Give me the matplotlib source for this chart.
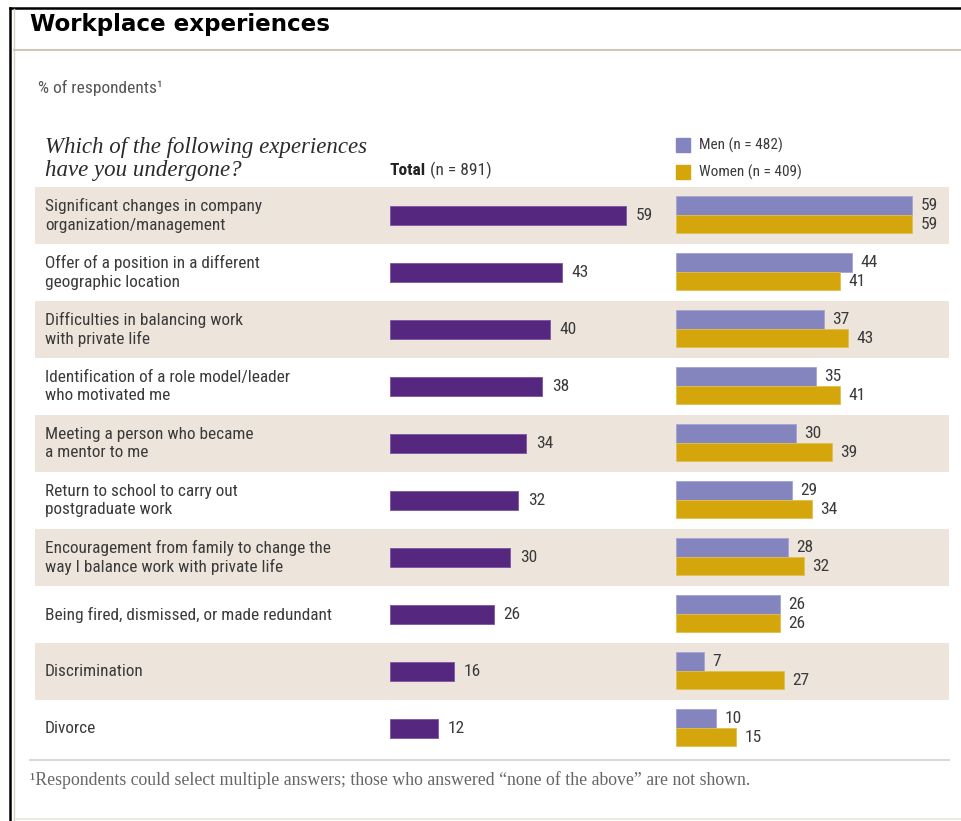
import matplotlib
matplotlib.use("Agg")
import matplotlib.pyplot as plt
from matplotlib.lines import Line2D

W, H = 961, 821

experiences = [
    "Significant changes in company\norganization/management",
    "Offer of a position in a different\ngeographic location",
    "Difficulties in balancing work\nwith private life",
    "Identification of a role model/leader\nwho motivated me",
    "Meeting a person who became\na mentor to me",
    "Return to school to carry out\npostgraduate work",
    "Encouragement from family to change the\nway I balance work with private life",
    "Being fired, dismissed, or made redundant",
    "Discrimination",
    "Divorce",
]
total = [59, 43, 40, 38, 34, 32, 30, 26, 16, 12]
men = [59, 44, 37, 35, 30, 29, 28, 26, 7, 10]
women = [59, 41, 43, 41, 39, 34, 32, 26, 27, 15]

PURPLE = "#55277f"
LAVENDER = "#8484bf"
GOLD = "#d4a60b"
BAND = "#ede5dc"
TEXT = "#3a3a3a"

SANS = ["Roboto Condensed", "Liberation Sans Narrow", "Liberation Sans", "DejaVu Sans"]
SERIF = ["Liberation Serif", "DejaVu Serif"]


def box(x0, y0, x1, y1):
    # pixel box (top-left origin) -> figure fraction rect
    return [x0 / W, 1 - y1 / H, (x1 - x0) / W, (y1 - y0) / H]


def fx(x):
    return x / W


def fy(y):
    return 1 - y / H


fig = plt.figure(figsize=(W / 100, H / 100), dpi=100)
fig.patch.set_facecolor("white")

n = len(experiences)
rows = list(range(n))

# shaded bands behind alternate rows
ax_bg = fig.add_axes(box(35, 187, 949, 757))
ax_bg.set_xlim(0, 1)
ax_bg.set_ylim(n - 0.5, -0.5)
for i in rows:
    if i % 2 == 0:
        ax_bg.axhspan(i - 0.5, i + 0.5, color=BAND, lw=0)
ax_bg.axis("off")

for i, label in enumerate(experiences):
    ax_bg.text(0.011, i, label, ha="left", va="center", fontsize=12.4,
               family=SANS, color=TEXT, linespacing=1.28)

# total bars
ax_t = fig.add_axes(box(390, 187, 630, 757))
ax_t.set_xlim(0, 60)
ax_t.set_ylim(n - 0.5, -0.5)
ax_t.barh(rows, total, height=0.32, color=PURPLE, edgecolor="#7a55a0", lw=0.6)
for i, v in enumerate(total):
    ax_t.annotate(str(v), (v, i), xytext=(7, 0), textcoords="offset points",
                  ha="left", va="center", fontsize=12.5, family=SANS,
                  color=TEXT, annotation_clip=False)
ax_t.axis("off")

# men / women bars
ax_g = fig.add_axes(box(676, 187, 916, 757))
ax_g.set_xlim(0, 60)
ax_g.set_ylim(n - 0.5, -0.5)
h = 0.325
men_y = [r - h / 2 - 0.01 for r in rows]
women_y = [r + h / 2 - 0.01 for r in rows]
ax_g.barh(men_y, men, height=h, color=LAVENDER, edgecolor="#a3a3d6", lw=0.6)
ax_g.barh(women_y, women, height=h, color=GOLD, edgecolor="#e0bf50", lw=0.6)
for y, v in zip(men_y, men):
    ax_g.annotate(str(v), (v, y), xytext=(6, 0), textcoords="offset points",
                  ha="left", va="center", fontsize=12.5, family=SANS,
                  color=TEXT, annotation_clip=False)
for y, v in zip(women_y, women):
    ax_g.annotate(str(v), (v, y), xytext=(6, 0), textcoords="offset points",
                  ha="left", va="center", fontsize=12.5, family=SANS,
                  color=TEXT, annotation_clip=False)
ax_g.axis("off")

# legend
ax_leg = fig.add_axes(box(676, 136, 820, 181))
ax_leg.set_xlim(0, 1)
ax_leg.set_ylim(1, 0)
ax_leg.axis("off")
for yy, col, lab in [(0.2, LAVENDER, "Men (n = 482)"), (0.8, GOLD, "Women (n = 409)")]:
    ax_leg.scatter([0.05], [yy], marker="s", s=110, color=col, clip_on=False)
    ax_leg.text(0.16, yy, lab, ha="left", va="center", fontsize=11,
                family=SANS, color=TEXT)

# headings
fig.text(fx(30), fy(24), "Workplace experiences", ha="left", va="center",
         fontsize=16.6, fontweight="bold", family=["DejaVu Sans"], color="black")
fig.text(fx(38), fy(88), "% of respondents\u00b9", ha="left", va="center",
         fontsize=12.5, family=SANS, color="#555555")
fig.text(fx(45), fy(159), "Which of the following experiences\nhave you undergone?",
         ha="left", va="center", fontsize=16.5, style="italic", family=SERIF,
         color="#2a2a2a", linespacing=1.1)
t = fig.text(fx(390), fy(170), "Total", ha="left", va="center", fontsize=12.5,
             fontweight="bold", family=SANS, color="#222222")
fig.add_artist(plt.Annotation(" (n = 891)", xy=(1, 0.5), xycoords=t,
                              ha="left", va="center", fontsize=12.5,
                              family=SANS, color=TEXT))

fig.text(fx(30), fy(780),
         "\u00b9Respondents could select multiple answers; those who answered "
         "\u201cnone of the above\u201d are not shown.",
         ha="left", va="center", fontsize=12.8, family=SERIF, color="#666666")

# frame lines
fig.add_artist(Line2D([fx(10), 1], [fy(8), fy(8)], color="black", lw=1.8))
fig.add_artist(Line2D([fx(10), fx(10)], [fy(8), 0], color="black", lw=1.8))
fig.add_artist(Line2D([fx(14), fx(14)], [fy(9), 0], color="#d8d2c4", lw=1))
fig.add_artist(Line2D([fx(14), 1], [fy(50), fy(50)], color="#cfc8b5", lw=1.5))
fig.add_artist(Line2D([fx(14), 1], [fy(819), fy(819)], color="#e8e4d6", lw=1.2))
fig.add_artist(Line2D([fx(30), fx(949)], [fy(760), fy(760)], color="#d9d9d9", lw=1.5))

fig.savefig("out.png", dpi=100, facecolor="white")
